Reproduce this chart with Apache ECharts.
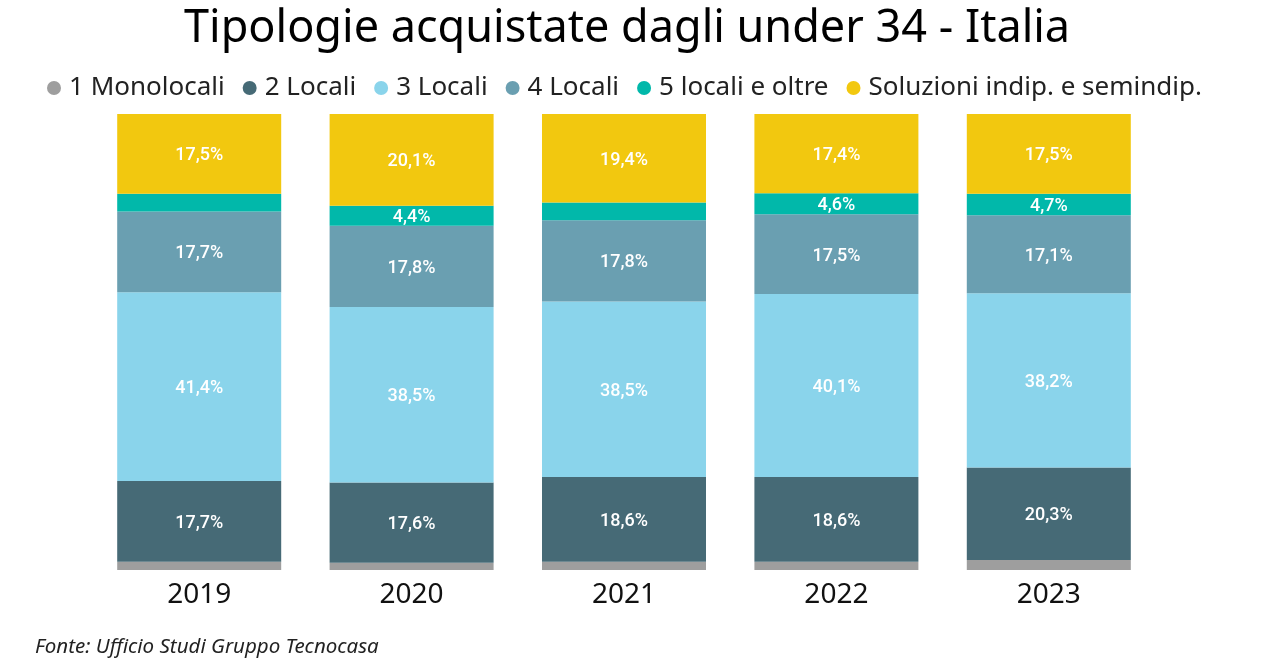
<!DOCTYPE html>
<html><head><meta charset="utf-8">
<script src="https://cdn.jsdelivr.net/npm/echarts@6/dist/echarts.min.js"></script>
<style>html,body{margin:0;padding:0;background:#fff}#c{width:1277px;height:668px}</style>
</head><body><div id="c"></div>
<script>
const years = ['2019','2020','2021','2022','2023'];
const monolocali = [1.8, 1.6, 1.8, 1.8, 2.2];
const locali2 = [17.7, 17.6, 18.6, 18.6, 20.3];
const locali3 = [41.4, 38.5, 38.5, 40.1, 38.2];
const locali4 = [17.7, 17.8, 17.8, 17.5, 17.1];
const locali5 = [3.9, 4.4, 3.9, 4.6, 4.7];
const soluzioni = [17.5, 20.1, 19.4, 17.4, 17.5];
const seriesNames = ['1 Monolocali','2 Locali','3 Locali','4 Locali','5 locali e oltre','Soluzioni indip. e semindip.'];
const colors = ['#9e9e9e','#466a76','#8ad4eb','#6a9fb1','#01b8aa','#f2c80f'];
const allData = [monolocali, locali2, locali3, locali4, locali5, soluzioni];

const chart = echarts.init(document.getElementById('c'));
chart.setOption({
  animation:false,
  title:[{text:'Tipologie acquistate dagli under 34 - Italia',left:179,top:2,
    textStyle:{fontFamily:'Noto Sans',fontSize:45,fontWeight:'normal',color:'#000'}},
    {text:'Fonte: Ufficio Studi Gruppo Tecnocasa',left:30,top:632,
    textStyle:{fontFamily:'Noto Sans',fontSize:20.5,fontStyle:'italic',fontWeight:'normal',color:'#222'}}],
  legend:{top:70,left:42,icon:'circle',itemWidth:14,itemHeight:14,itemGap:18,
    textStyle:{fontFamily:'Noto Sans',fontSize:26,color:'#222',padding:[0,0,0,3]},
    data:seriesNames},
  grid:{left:93,right:122,top:114,bottom:98,containLabel:false},
  xAxis:{type:'category',data:years,axisLine:{show:false},axisTick:{show:false},
    axisLabel:{fontFamily:'Noto Sans',fontSize:28,color:'#111',margin:11}},
  yAxis:{type:'value',min:0,max:100,show:false},
  series: seriesNames.map((n,i)=>({
    name:n,type:'bar',stack:'a',barWidth:164,data:allData[i],
    itemStyle:{color:colors[i]},
    label:{show:true,position:'inside',offset:[0,2],color:'#fff',fontFamily:'Roboto',fontWeight:500,fontSize:18,
      formatter:p=>p.value>=4?p.value.toFixed(1).replace('.',',')+'%':''}
  }))
});
</script></body></html>
